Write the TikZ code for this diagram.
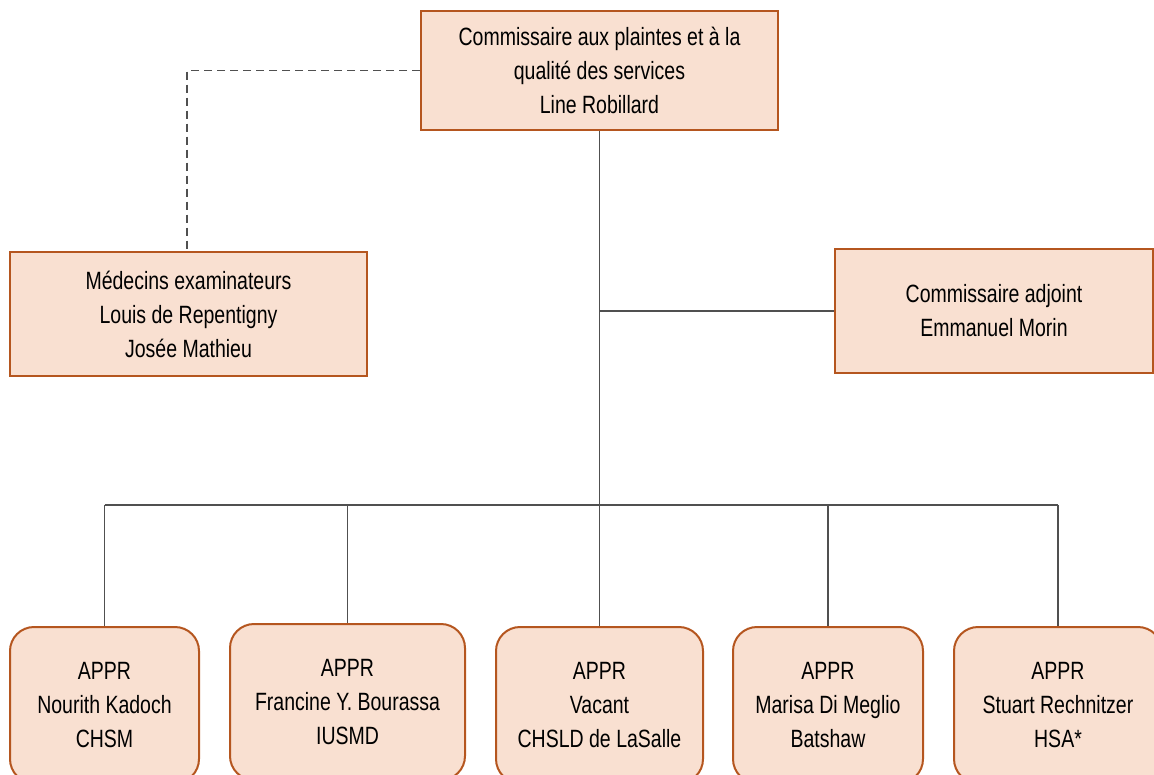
\documentclass[tikz,border=0pt]{standalone}
\usepackage{fontspec}
\setmainfont[FakeStretch=0.78]{Liberation Sans}
\definecolor{boxfill}{HTML}{F9E0D1}
\definecolor{boxline}{HTML}{B5561F}
\definecolor{linkc}{HTML}{505050}
\begin{document}
\begin{tikzpicture}[x=1pt,y=-1pt,
  every node/.style={font=\fontsize{25}{34}\selectfont, align=center, inner sep=0pt},
  sqbox/.style={draw=boxline, fill=boxfill, line width=2pt},
  rndbox/.style={draw=boxline, fill=boxfill, line width=2pt, rounded corners=24pt},
  link/.style={draw=linkc, line width=1.3pt},
  dlink/.style={draw=linkc, line width=1.2pt, dash pattern=on 8pt off 5pt}]
\useasboundingbox (0,0) rectangle (1154,774);
% top box
\node[sqbox, minimum width=357pt, minimum height=119pt] (top) at (599.5,70.5)
  {Commissaire aux plaintes et à la\\qualité des services\\Line Robillard};
\node[sqbox, minimum width=357pt, minimum height=124pt] (med) at (188.5,314)
  {Médecins examinateurs\\Louis de Repentigny\\Josée Mathieu};
\node[sqbox, minimum width=318pt, minimum height=124pt] (adj) at (994,311)
  {Commissaire adjoint\\Emmanuel Morin};
% bottom boxes
\node[rndbox, minimum width=189pt, minimum height=156pt] (b1) at (104.5,705)
  {APPR\\Nourith Kadoch\\CHSM};
\node[rndbox, minimum width=235pt, minimum height=156pt] (b2) at (347.5,702)
  {APPR\\Francine Y. Bourassa\\IUSMD};
\node[rndbox, minimum width=207pt, minimum height=156pt] (b3) at (599.5,705)
  {APPR\\Vacant\\CHSLD de LaSalle};
\node[rndbox, minimum width=190pt, minimum height=156pt] (b4) at (828,705)
  {APPR\\Marisa Di Meglio\\Batshaw};
\node[rndbox, minimum width=208pt, minimum height=156pt] (b5) at (1058,705)
  {APPR\\Stuart Rechnitzer\\HSA*};
% connectors
\coordinate (barL) at (104.5,505);
\coordinate (barR) at (1058,505);
\coordinate (dcorner) at (187,70.5);
\draw[dlink] (top.west) -- (dcorner) -- (med.north -| dcorner);
\draw[link] (top.south) -- (top.south |- barL);
\draw[link] (top.south |- adj.west) -- (adj.west);
\draw[link] (barL) -- (barR);
\draw[link] (b1.north |- barL) -- (b1.north);
\draw[link] (b2.north |- barL) -- (b2.north);
\draw[link] (b3.north |- barL) -- (b3.north);
\draw[link] (b4.north |- barL) -- (b4.north);
\draw[link] (b5.north |- barL) -- (b5.north);
\end{tikzpicture}
\end{document}
